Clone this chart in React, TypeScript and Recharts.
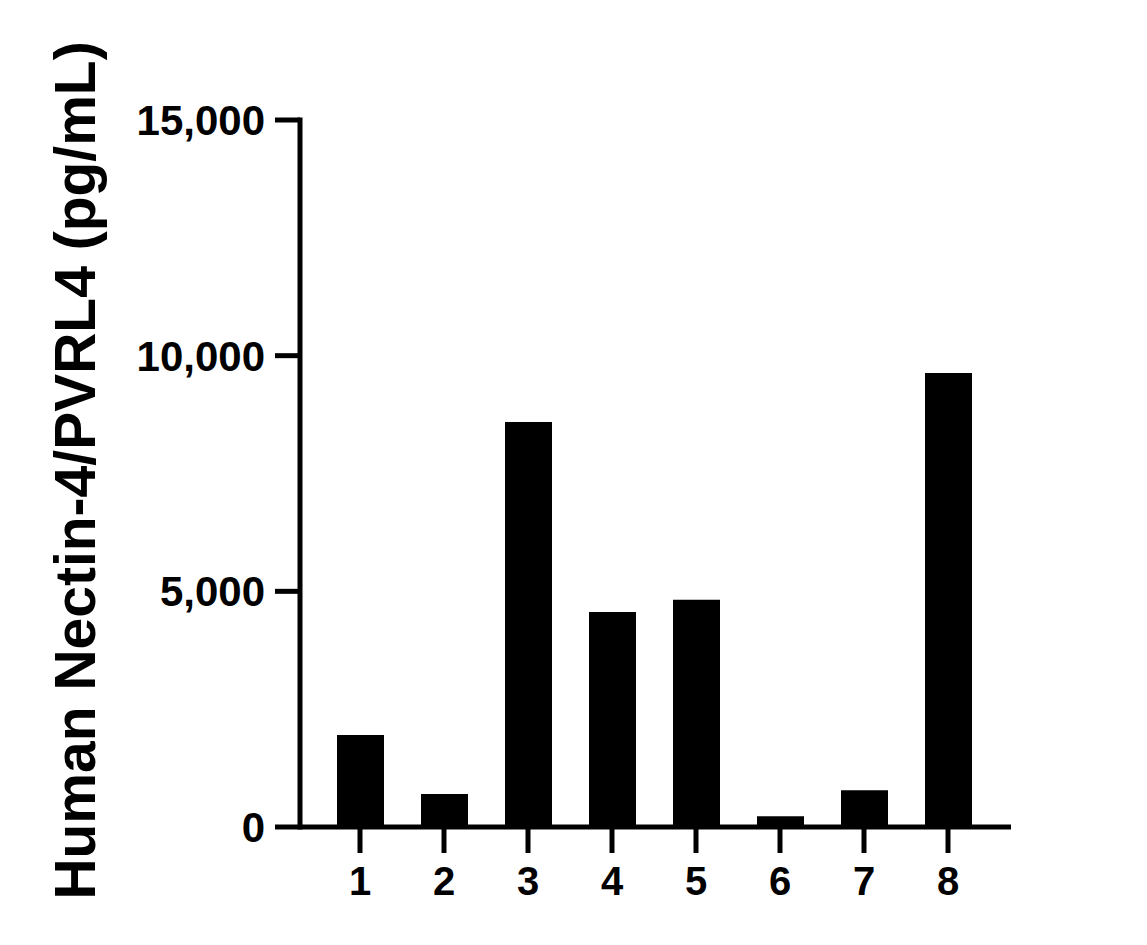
import React from 'react';
import { BarChart, Bar, XAxis, YAxis } from 'recharts';

const samples = ['1', '2', '3', '4', '5', '6', '7', '8'];
const concentrations = [1950, 700, 8590, 4560, 4820, 230, 780, 9630];
const yTicks = [0, 5000, 10000, 15000];
const yTitle = 'Human Nectin-4/PVRL4 (pg/mL)';

const data = samples.map((name, i) => ({ name, value: concentrations[i] }));

const FONT = '"Liberation Sans", Arial, sans-serif';

const TitleLabel = ({ viewBox }: any) => {
  const cx = 87;
  const cy = viewBox.y + viewBox.height / 2 - 3;
  return (
    <text
      x={cx}
      y={cy}
      transform={`rotate(-90, ${cx}, ${cy})`}
      textAnchor="middle"
      fontFamily={FONT}
      fontWeight="bold"
      fontSize={57}
      fill="#000"
    >
      {yTitle}
    </text>
  );
};

export default function App() {
  return (
    <BarChart
      width={1131}
      height={929}
      data={data}
      margin={{ top: 112, right: 128, left: 0, bottom: 50 }}
      barSize={47}
    >
      <XAxis
        dataKey="name"
        height={60}
        padding={{ left: 18, right: 21 }}
        axisLine={{ stroke: '#000', strokeWidth: 5 }}
        tickLine={{ stroke: '#000', strokeWidth: 5 }}
        tickSize={26}
        tickMargin={14}
        tick={{ fill: '#000', fontSize: 40, fontWeight: 'bold', fontFamily: FONT }}
      />
      <YAxis
        width={292}
        domain={[0, 15000]}
        ticks={yTicks}
        interval={0}
        tickFormatter={(v: number) => v.toLocaleString('en-US')}
        axisLine={{ stroke: '#000', strokeWidth: 5, strokeLinecap: 'square' }}
        tickLine={{ stroke: '#000', strokeWidth: 5 }}
        tickSize={25}
        tickMargin={10}
        tick={{ fill: '#000', fontSize: 42, fontWeight: 'bold', fontFamily: FONT }}
        label={<TitleLabel />}
      />
      <Bar dataKey="value" fill="#000" isAnimationActive={false} />
    </BarChart>
  );
}
